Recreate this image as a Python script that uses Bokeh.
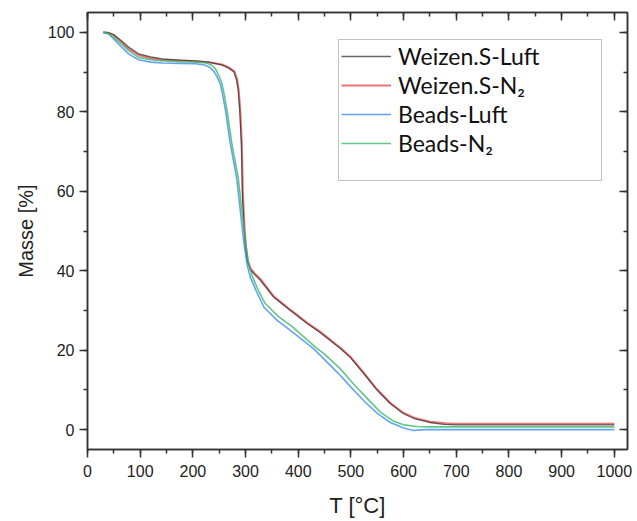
from bokeh.plotting import figure
from bokeh.models import (LinearAxis, SingleIntervalTicker, Range1d, Legend,
                          LegendItem, ColumnDataSource)
from bokeh.embed import file_html
from bokeh.resources import INLINE

# ---- data ----
T_ws_luft = [30, 40, 50, 65, 78, 97, 120, 142, 175, 205, 230, 255, 268, 278, 283, 286, 289, 292, 294, 297,
             300, 303, 309, 316, 328, 353, 385, 417, 442, 480, 500, 525, 550, 575, 600, 620, 650, 676,
             700, 800, 900, 1000]
m_ws_luft = [100, 99.9, 99.4, 97.8, 96.3, 94.6, 93.8, 93.3, 93.0, 92.8, 92.5, 91.8, 91.0, 90.0, 88.0, 85.5,
             80.3, 72.0, 59.4, 51.0, 46.0, 42.6, 40.3, 39.2, 37.6, 33.4, 30.0, 26.7, 24.4, 20.4, 18.0,
             14.0, 9.9, 6.5, 4.0, 2.8, 1.8, 1.3, 1.2, 1.2, 1.2, 1.2]

T_ws_n2 = [30, 40, 50, 65, 78, 97, 120, 142, 175, 205, 230, 255, 268, 279, 284, 287, 290, 293, 295, 298,
           301, 304, 310, 317, 329, 353, 385, 417, 442, 480, 500, 525, 550, 575, 600, 620, 650, 680,
           700, 800, 900, 1000]
m_ws_n2 = [100, 99.9, 99.3, 97.5, 95.9, 94.3, 93.5, 93.1, 92.9, 92.7, 92.5, 91.9, 91.2, 90.2, 88.2, 85.5,
           80.3, 72.0, 59.4, 51.0, 46.0, 42.6, 40.5, 39.4, 37.8, 33.6, 30.2, 26.9, 24.6, 20.6, 18.2,
           14.2, 10.1, 6.7, 4.2, 3.0, 2.0, 1.6, 1.5, 1.5, 1.5, 1.5]

T_b_luft = [30, 40, 50, 65, 78, 97, 120, 142, 175, 205, 222, 232, 240, 246, 252, 257, 262, 271, 283, 290,
            297, 303, 309, 320, 335, 360, 385, 429, 442, 475, 500, 525, 550, 575, 600, 619, 640, 700,
            800, 900, 1000]
m_b_luft = [100, 99.6, 98.3, 96.3, 94.6, 93.1, 92.5, 92.3, 92.2, 92.1, 91.8, 91.2, 90.2, 88.8, 87.0, 84.0,
            80.3, 72.0, 63.5, 55.2, 46.8, 41.5, 38.4, 35.0, 30.8, 27.5, 25.0, 20.4, 18.7, 14.3, 10.7,
            7.2, 4.1, 1.8, 0.4, -0.2, 0.0, 0.0, 0.0, 0.0, 0.0]

T_b_n2 = [30, 40, 50, 65, 78, 97, 120, 142, 175, 205, 225, 235, 243, 249, 255, 260, 265, 274, 286, 293,
          300, 306, 312, 322, 337, 362, 388, 436, 450, 480, 505, 530, 556, 580, 600, 625, 650, 700,
          800, 900, 1000]
m_b_n2 = [100, 99.7, 98.8, 97.0, 95.4, 93.7, 93.1, 92.8, 92.6, 92.5, 92.3, 91.8, 90.8, 89.2, 87.2, 84.0,
          80.3, 72.0, 63.5, 55.2, 46.8, 41.8, 38.9, 35.7, 31.8, 28.5, 26.0, 20.4, 19.0, 15.3, 11.5,
          8.0, 4.4, 2.2, 1.2, 0.8, 0.7, 0.7, 0.7, 0.7, 0.7]

labels = ["Weizen.S-Luft", "Weizen.S-N\u2082", "Beads-Luft", "Beads-N\u2082"]
x_ticks_interval = 100
y_ticks_interval = 20

AX = "#333333"
TICK_FONT = "Liberation Sans"

p = figure(frame_width=540, frame_height=437,
           x_range=Range1d(0, 1025), y_range=Range1d(-5, 105),
           output_backend="svg", toolbar_location=None,
           min_border_left=87, min_border_top=12, min_border_right=8, min_border_bottom=6,
           background_fill_color="white", border_fill_color="white")
p.grid.visible = False
p.outline_line_color = AX
p.outline_line_width = 1.5

xt = SingleIntervalTicker(interval=x_ticks_interval, num_minor_ticks=2)
yt = SingleIntervalTicker(interval=y_ticks_interval, num_minor_ticks=2)

for ax, t in ((p.xaxis[0], xt), (p.yaxis[0], yt)):
    ax.ticker = t
    ax.axis_line_color = AX
    ax.axis_line_width = 1.5
    ax.major_tick_line_color = AX
    ax.minor_tick_line_color = AX
    ax.major_tick_line_width = 1.5
    ax.minor_tick_line_width = 1.5
    ax.major_tick_out = 8
    ax.major_tick_in = 0
    ax.minor_tick_out = 4
    ax.minor_tick_in = 0
    ax.major_label_text_font = TICK_FONT
    ax.major_label_text_font_size = "16px"
    ax.major_label_text_color = "#222222"
    ax.axis_label_text_font = TICK_FONT
    ax.axis_label_text_font_style = "normal"
    ax.axis_label_text_color = "#222222"

p.xaxis.axis_label = "T [\u00b0C]"
p.yaxis.axis_label = "Masse [%]"
p.xaxis.axis_label_text_font_size = "22px"
p.yaxis.axis_label_text_font_size = "20px"
p.xaxis.major_label_standoff = 7
p.xaxis.axis_label_standoff = 13
p.yaxis.major_label_standoff = 5
p.yaxis.axis_label_standoff = 8


def mirror(ticker):
    return LinearAxis(ticker=ticker, axis_line_color=AX, axis_line_width=1.5,
                      major_tick_line_color=AX, minor_tick_line_color=AX,
                      major_tick_line_width=1.5, minor_tick_line_width=1.5,
                      major_tick_in=8, major_tick_out=0, minor_tick_in=4, minor_tick_out=0,
                      major_label_text_font_size="1px", major_label_text_color=None,
                      major_label_standoff=0)

p.add_layout(mirror(xt), "above")
p.add_layout(mirror(yt), "right")

r_red = p.line(T_ws_n2, m_ws_n2, line_color="#e8474a", line_width=2.0, line_alpha=0.75)
r_blk = p.line(T_ws_luft, m_ws_luft, line_color="#333333", line_width=1.3, line_alpha=0.75)
r_blu = p.line(T_b_luft, m_b_luft, line_color="#3d8ef0", line_width=1.6, line_alpha=0.8)
r_grn = p.line(T_b_n2, m_b_n2, line_color="#3cb868", line_width=1.6, line_alpha=0.8)

blank_src = ColumnDataSource(data=dict(x=[], y=[]))
r_blank = p.line("x", "y", source=blank_src, line_alpha=0)

legend = Legend(items=[LegendItem(label=labels[0], renderers=[r_blk]),
                       LegendItem(label=labels[1], renderers=[r_red]),
                       LegendItem(label=labels[2], renderers=[r_blu]),
                       LegendItem(label=labels[3], renderers=[r_grn]),
                       LegendItem(label=" ", renderers=[r_blank])],
                location=(251, 268), padding=2, spacing=1, margin=0,
                glyph_width=50, glyph_height=20, label_height=20, label_standoff=7,
                label_width=201,
                label_text_font="Lato", label_text_font_size="23px", label_text_color="#111111",
                border_line_color="#888888", border_line_width=1,
                background_fill_color="white", background_fill_alpha=1)
p.add_layout(legend, "center")

open("out.html", "w").write(file_html(p, INLINE))
